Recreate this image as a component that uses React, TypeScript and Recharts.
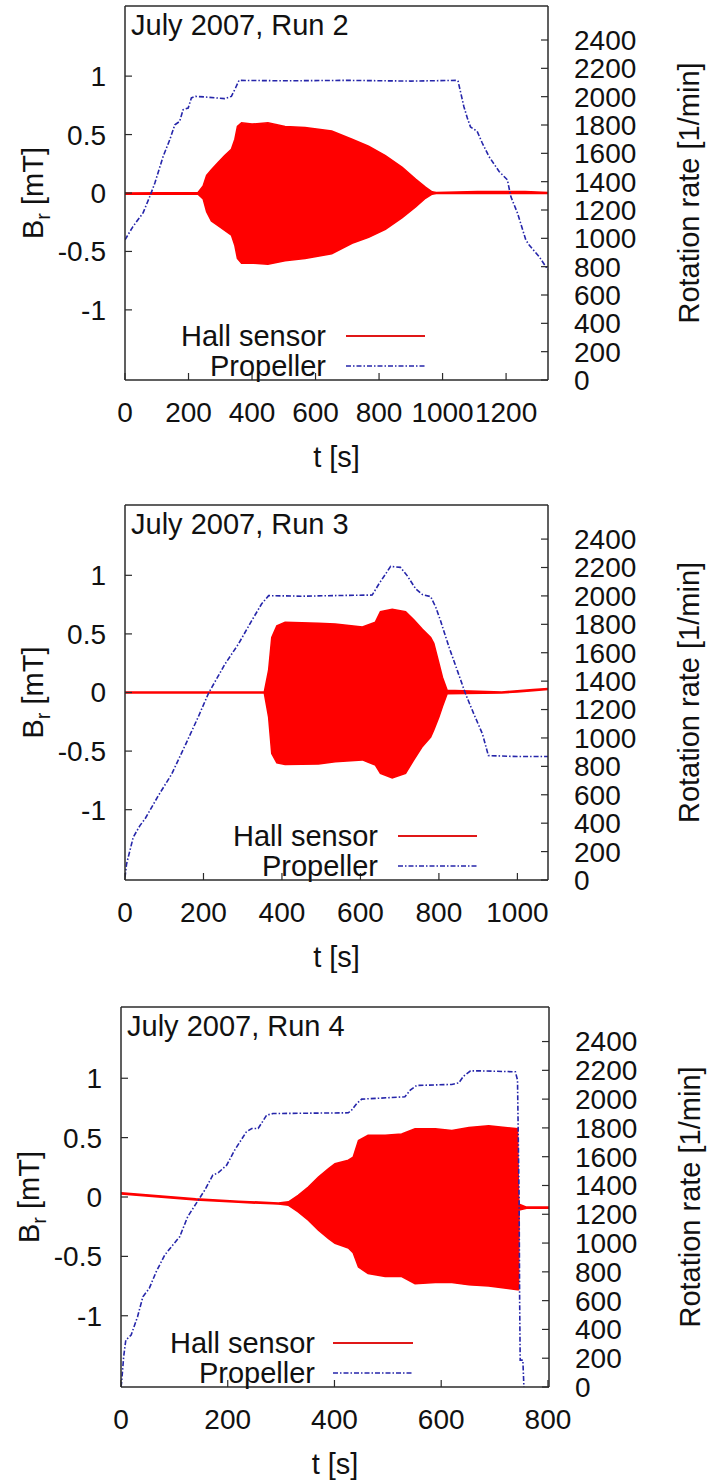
import React from 'react'
import { ComposedChart, Area, Line, XAxis, YAxis, Legend } from 'recharts'

const FONT = '"Liberation Sans", Arial, Helvetica, sans-serif'
const INK = '#111'
const FRAME = '#2b2b2b'
const RED = '#ff0000'
const BLUE = '#2626aa'

// axis ticks
const bTicks = [-1, -0.5, 0, 0.5, 1]
const rpmTicks = [0, 200, 400, 600, 800, 1000, 1200, 1400, 1600, 1800, 2000, 2200, 2400]
const run2TTicks = [0, 200, 400, 600, 800, 1000, 1200]
const run3TTicks = [0, 200, 400, 600, 800, 1000]
const run4TTicks = [0, 200, 400, 600, 800]

// Run 2 — propeller rotation rate [1/min]
const run2PropT = [0, 25, 57, 78, 94, 120, 141, 157, 172, 183, 199, 209, 222, 251, 314, 335, 348, 359, 500, 700, 900, 1046, 1049, 1067, 1078, 1088, 1109, 1125, 1146, 1178, 1204, 1215, 1236, 1262, 1272, 1304, 1332]
const run2PropRpm = [990, 1083, 1180, 1295, 1390, 1578, 1696, 1802, 1825, 1908, 1920, 1991, 2002, 1998, 1986, 2002, 2061, 2115, 2112, 2115, 2110, 2115, 2108, 1931, 1849, 1786, 1755, 1673, 1578, 1472, 1413, 1295, 1178, 989, 954, 871, 777]
// Run 2 — Hall sensor envelope [mT]
const run2HallT = [0, 230, 246, 257, 272, 293, 314, 335, 346, 354, 367, 400, 450, 504, 567, 651, 715, 767, 820, 873, 915, 946, 967, 980, 1110, 1260, 1332]
const run2HallHi = [0, 0.005, 0.06, 0.15, 0.2, 0.26, 0.32, 0.375, 0.46, 0.57, 0.6, 0.59, 0.6, 0.57, 0.56, 0.53, 0.46, 0.4, 0.32, 0.22, 0.12, 0.05, 0.01, 0.005, 0.012, 0.012, 0.005]
const run2HallLo = [-0.01, -0.01, -0.05, -0.16, -0.24, -0.28, -0.32, -0.36, -0.45, -0.56, -0.6, -0.6, -0.61, -0.58, -0.56, -0.52, -0.43, -0.38, -0.31, -0.21, -0.12, -0.045, -0.01, -0.005, -0.005, -0.005, -0.005]

// Run 3
const run3PropT = [0, 4, 21, 38, 51, 85, 119, 153, 187, 213, 255, 289, 323, 348, 366, 450, 550, 630, 647, 664, 677, 702, 719, 741, 758, 779, 792, 804, 826, 847, 868, 889, 911, 926, 1000, 1078]
const run3PropRpm = [19, 113, 301, 383, 430, 594, 746, 946, 1150, 1316, 1521, 1661, 1826, 1943, 2002, 1998, 2003, 2006, 2084, 2154, 2208, 2201, 2143, 2049, 2009, 1995, 1920, 1826, 1638, 1474, 1309, 1169, 1028, 876, 869, 869]
const run3HallT = [0, 355, 366, 374, 387, 408, 493, 536, 605, 638, 651, 681, 715, 736, 758, 779, 787, 800, 809, 821, 960, 1000, 1040, 1078]
const run3HallHi = [0.005, 0.005, 0.19, 0.47, 0.57, 0.6, 0.59, 0.585, 0.56, 0.6, 0.69, 0.71, 0.69, 0.62, 0.54, 0.47, 0.42, 0.25, 0.13, 0.02, 0.005, 0.015, 0.025, 0.035]
const run3HallLo = [-0.005, -0.005, -0.21, -0.52, -0.6, -0.615, -0.61, -0.59, -0.575, -0.62, -0.69, -0.73, -0.69, -0.575, -0.46, -0.38, -0.32, -0.21, -0.12, -0.01, -0.005, 0.005, 0.015, 0.025]

// Run 4
const run4PropT = [0, 1, 5, 9, 19, 31, 41, 53, 66, 82, 97, 110, 125, 141, 157, 172, 182, 198, 213, 235, 245, 257, 273, 285, 426, 432, 442, 451, 532, 542, 554, 620, 633, 642, 655, 677, 739, 743, 746, 747, 748, 753, 755]
const run4PropRpm = [0, 26, 210, 326, 361, 488, 627, 685, 801, 917, 986, 1044, 1183, 1276, 1368, 1472, 1488, 1541, 1646, 1773, 1796, 1796, 1889, 1900, 1905, 1923, 1970, 2000, 2016, 2062, 2095, 2102, 2113, 2160, 2196, 2196, 2190, 2132, 1299, 604, 187, 187, 0]
const run4HallT = [0, 70, 140, 220, 295, 314, 332, 351, 370, 389, 401, 426, 435, 445, 463, 495, 526, 551, 589, 620, 652, 689, 743, 745, 746, 760, 802]
const run4HallHi = [0.035, 0.01, -0.015, -0.035, -0.05, -0.04, 0.014, 0.084, 0.167, 0.24, 0.28, 0.31, 0.335, 0.475, 0.52, 0.52, 0.53, 0.575, 0.575, 0.56, 0.585, 0.6, 0.575, 0, -0.06, -0.085, -0.085]
const run4HallLo = [0.025, 0, -0.025, -0.045, -0.06, -0.07, -0.126, -0.195, -0.28, -0.35, -0.39, -0.43, -0.47, -0.59, -0.645, -0.67, -0.67, -0.73, -0.72, -0.72, -0.74, -0.75, -0.78, -0.78, -0.11, -0.095, -0.095]

const legendNames = ['Hall sensor', 'Propeller']

const toProp = (t: number[], rpm: number[]) => t.map((x, i) => ({ t: x, rpm: rpm[i] }))
const toBand = (t: number[], lo: number[], hi: number[]) => t.map((x, i) => ({ t: x, band: [lo[i], hi[i]] }))

// plot boxes are in page pixels
const panels = [
  {
    title: 'July 2007, Run 2', chartTop: 0, chartHeight: 490,
    left: 125, right: 548, top: 6, bottom: 380, xMax: 1332, xTicks: run2TTicks,
    legendLine: [346, 425], legendTextRight: 326,
    prop: toProp(run2PropT, run2PropRpm), hall: toBand(run2HallT, run2HallLo, run2HallHi),
  },
  {
    title: 'July 2007, Run 3', chartTop: 495, chartHeight: 495,
    left: 125, right: 548, top: 505, bottom: 880, xMax: 1078, xTicks: run3TTicks,
    legendLine: [398, 477], legendTextRight: 378,
    prop: toProp(run3PropT, run3PropRpm), hall: toBand(run3HallT, run3HallLo, run3HallHi),
  },
  {
    title: 'July 2007, Run 4', chartTop: 990, chartHeight: 492,
    left: 121, right: 549, top: 1007, bottom: 1387, xMax: 802, xTicks: run4TTicks,
    legendLine: [333, 413], legendTextRight: 315,
    prop: toProp(run4PropT, run4PropRpm), hall: toBand(run4HallT, run4HallLo, run4HallHi),
  },
]

const TICK_LEN = 7
const frameStyle = { stroke: FRAME, strokeWidth: 1.5 }
const textProps = { fontFamily: FONT, fill: INK }

// gnuplot-style ticks: short marks pointing into the plot, label outside
function makeTick(side: 'left' | 'right' | 'bottom' | 'top', edge: number) {
  return (p: any) => {
    let mark
    if (side === 'left') mark = <line x1={edge} x2={edge + TICK_LEN} y1={p.y} y2={p.y} />
    else if (side === 'right') mark = <line x1={edge - TICK_LEN} x2={edge} y1={p.y} y2={p.y} />
    else if (side === 'bottom') mark = <line x1={p.x} x2={p.x} y1={edge - TICK_LEN} y2={edge} />
    else mark = <line x1={p.x} x2={p.x} y1={edge} y2={edge + TICK_LEN} />
    return (
      <g>
        <g stroke={FRAME} strokeWidth={1.2}>{mark}</g>
        {side !== 'top' && (
          <text x={p.x} y={p.y} dy={side === 'bottom' ? '0.71em' : '0.355em'} textAnchor={p.textAnchor} fontSize={28} {...textProps}>
            {p.payload.value}
          </text>
        )}
      </g>
    )
  }
}

function RunChart({ cfg }: { cfg: any }) {
  const plotTop = cfg.top - cfg.chartTop
  const plotBottom = cfg.bottom - cfg.chartTop
  const midY = (plotTop + plotBottom) / 2
  const xDomain = [0, cfg.xMax]

  const legend = () => (
    <svg width={708} height={cfg.chartHeight} style={{ display: 'block' }}>
      {legendNames.map((name, i) => {
        const y = plotBottom - 44 + i * 30
        return (
          <g key={name}>
            <text x={cfg.legendTextRight} y={y + 10} textAnchor="end" fontSize={29} {...textProps}>
              {name}
            </text>
            <line
              x1={cfg.legendLine[0]} x2={cfg.legendLine[1]} y1={y} y2={y}
              stroke={i === 0 ? '#e01818' : BLUE}
              strokeWidth={i === 0 ? 2 : 1.6}
              strokeDasharray={i === 0 ? undefined : '5 2 1.5 2'}
            />
          </g>
        )
      })}
    </svg>
  )

  return (
    <ComposedChart width={708} height={cfg.chartHeight} margin={{ top: plotTop - 1, right: 0, bottom: 0, left: 0 }}>
      <XAxis
        xAxisId="t" dataKey="t" type="number" domain={xDomain} ticks={cfg.xTicks} interval={0} allowDataOverflow
        height={cfg.chartHeight - plotBottom} tickSize={0} tickMargin={22}
        tick={makeTick('bottom', plotBottom)} tickLine={false} axisLine={frameStyle}
        label={{
          content: () => (
            <text x={(cfg.left + cfg.right) / 2} y={plotBottom + 77} dy="0.35em" textAnchor="middle" fontSize={29} {...textProps}>
              t [s]
            </text>
          ),
        }}
      />
      <XAxis
        xAxisId="top" orientation="top" type="number" domain={xDomain} ticks={cfg.xTicks} interval={0} allowDataOverflow
        height={1} tickSize={0} tick={makeTick('top', plotTop)} tickLine={false} axisLine={frameStyle}
        label={{
          content: () => (
            <text x={cfg.left + 6} y={plotTop + 29} fontSize={29} {...textProps}>
              {cfg.title}
            </text>
          ),
        }}
      />
      <YAxis
        yAxisId="b" type="number" domain={[-1.6, 1.6]} ticks={bTicks} interval={0} allowDataOverflow
        width={cfg.left} tickSize={0} tickMargin={19}
        tick={makeTick('left', cfg.left)} tickLine={false} axisLine={frameStyle}
        label={{
          content: () => (
            <text transform={`translate(${cfg.left - 92},${midY}) rotate(-90)`} textAnchor="middle" dy="0.35em" fontSize={29} {...textProps}>
              B<tspan dy={7} fontSize={20}>r</tspan><tspan dy={-7}> [mT]</tspan>
            </text>
          ),
        }}
      />
      <YAxis
        yAxisId="rpm" orientation="right" type="number" domain={[0, 2640]} ticks={rpmTicks} interval={0} allowDataOverflow
        width={708 - cfg.right} tickSize={0} tickMargin={26}
        tick={makeTick('right', cfg.right)} tickLine={false} axisLine={frameStyle}
        label={{
          content: () => (
            <text transform={`translate(${cfg.right + 141},${midY}) rotate(-90)`} textAnchor="middle" dy="0.35em" fontSize={29} {...textProps}>
              Rotation rate [1/min]
            </text>
          ),
        }}
      />
      <Area
        xAxisId="t" yAxisId="b" data={cfg.hall} dataKey="band" name="Hall sensor" type="linear"
        stroke={RED} strokeWidth={1.5} fill={RED} fillOpacity={1} dot={false} activeDot={false}
        isAnimationActive={false}
      />
      <Line
        xAxisId="t" yAxisId="rpm" data={cfg.prop} dataKey="rpm" name="Propeller" type="linear"
        stroke={BLUE} strokeWidth={1.6} strokeDasharray="5 2 1.5 2" dot={false} activeDot={false}
        isAnimationActive={false}
      />
      <Legend
        layout="vertical" align="center" verticalAlign="middle" width={708} height={cfg.chartHeight}
        wrapperStyle={{ left: 0, top: 0, width: 708, height: cfg.chartHeight, pointerEvents: 'none' }}
        content={legend}
      />
    </ComposedChart>
  )
}

export default function App() {
  return (
    <div style={{ position: 'absolute', left: 0, top: 0, width: 708, height: 1482, background: '#fff' }}>
      {panels.map((cfg) => (
        <div key={cfg.title} style={{ position: 'absolute', left: 0, top: cfg.chartTop }}>
          <RunChart cfg={cfg} />
        </div>
      ))}
    </div>
  )
}
